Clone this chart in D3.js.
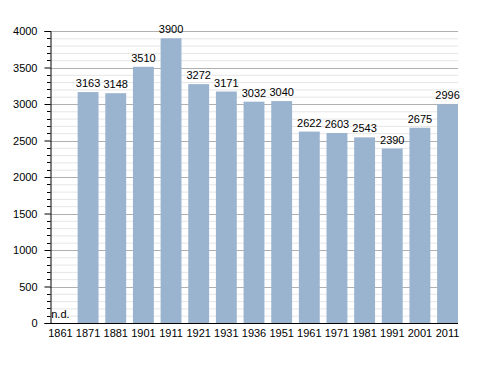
<!DOCTYPE html>
<html><head><meta charset="utf-8">
<script src="https://cdn.jsdelivr.net/npm/d3@7"></script>
<style>body{margin:0;background:#fff}svg{display:block}text{font-family:"Liberation Sans",Arial,sans-serif;font-size:11px;fill:#000}</style>
</head><body><svg id="c" width="488" height="373"></svg>
<script>
const years = ["1861","1871","1881","1901","1911","1921","1931","1936","1951","1961","1971","1981","1991","2001","2011"];
const population = [null,3163,3148,3510,3900,3272,3171,3032,3040,2622,2603,2543,2390,2675,2996];
const yTicks = [0,500,1000,1500,2000,2500,3000,3500,4000];
const missingLabel = "n.d.";

const svg = d3.select("#c");
const x = d3.scaleBand().domain(years).range([50,458]).paddingInner(0.245).paddingOuter(0);
const y = d3.scaleLinear().domain([0,4000]).range([323,31]);

// minor grid
svg.append("g").selectAll("line").data(d3.range(0,4001,100).filter(v=>v%500!==0)).join("line")
  .attr("x1",50).attr("x2",458).attr("y1",d=>y(d)+0.5).attr("y2",d=>y(d)+0.5)
  .attr("stroke","#e6e6e6").attr("stroke-width",1);
// major grid
svg.append("g").selectAll("line").data(yTicks.filter(v=>v>0)).join("line")
  .attr("x1",50).attr("x2",458).attr("y1",d=>Math.round(y(d))+0.5).attr("y2",d=>Math.round(y(d))+0.5)
  .attr("stroke","#b0b0b0").attr("stroke-width",1);

// bars
const data = years.map((yr,i)=>({yr,v:population[i]}));
svg.append("g").selectAll("rect").data(data.filter(d=>d.v!=null)).join("rect")
  .attr("x",d=>x(d.yr)).attr("width",x.bandwidth())
  .attr("y",d=>y(d.v)).attr("height",d=>y(0)-y(d.v))
  .attr("fill","#9ab3cf");

// value labels
svg.append("g").selectAll("text").data(data).join("text")
  .attr("x",d=>x(d.yr)+x.bandwidth()/2)
  .attr("y",d=>d.v==null? y(0)-5 : y(d.v)-5)
  .attr("text-anchor","middle")
  .text(d=>d.v==null? missingLabel : d.v);

// y axis
const yAxis = d3.axisLeft(y).tickValues(yTicks).tickSize(6).tickPadding(7).tickFormat(d3.format("d"));
const gy = svg.append("g").attr("transform","translate(50.5,0)").call(yAxis);
gy.select(".domain").attr("stroke","#000");
gy.selectAll(".tick line").attr("stroke","#000");
gy.selectAll("text").attr("font-size",null).attr("font-family",null);
// minor ticks
svg.append("g").selectAll("line").data(d3.range(0,4001,100).filter(v=>v%500!==0)).join("line")
  .attr("x1",47).attr("x2",50.5).attr("y1",d=>Math.round(y(d))+0.5).attr("y2",d=>Math.round(y(d))+0.5)
  .attr("stroke","#000");

// x axis
const xAxis = d3.axisBottom(x).tickSize(0).tickPadding(6);
const gx = svg.append("g").attr("transform","translate(0,323.5)").call(xAxis);
gx.select(".domain").attr("stroke","#000").attr("d","M50,0H458");
gx.selectAll("text").attr("font-size",null).attr("font-family",null);
</script></body></html>
